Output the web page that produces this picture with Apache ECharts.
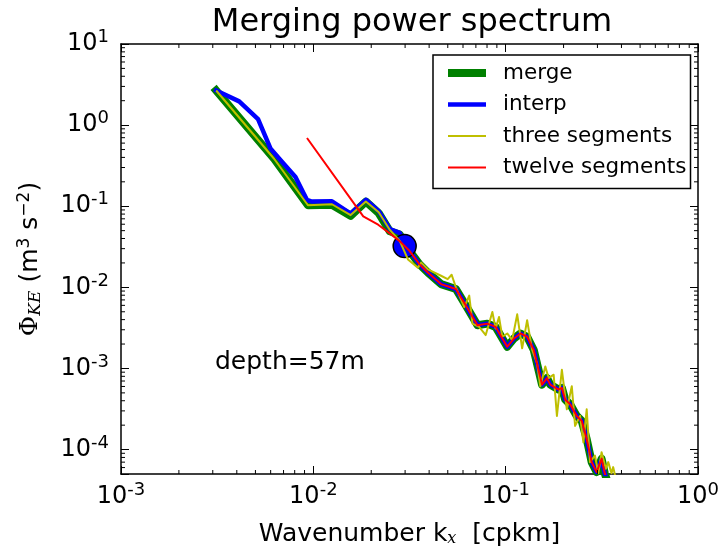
<!DOCTYPE html>
<html><head><meta charset="utf-8">
<script src="https://cdn.jsdelivr.net/npm/echarts@6/dist/echarts.min.js"></script>
<style>html,body{margin:0;padding:0;background:#fff}#c{width:722px;height:552px}</style>
</head><body><div id="c"></div>
<script>
// ---- data ----
const kMerge = [0.003125, 0.00625, 0.009375, 0.0125, 0.015625, 0.01875, 0.021875, 0.025, 0.028125, 0.03168, 0.03568, 0.03938, 0.04612, 0.05511, 0.06209, 0.07136, 0.08035, 0.08869, 0.1019, 0.1104, 0.1194, 0.1293, 0.1400, 0.1545, 0.1640, 0.1705, 0.1884, 0.1960, 0.2038, 0.2163, 0.2342, 0.2486, 0.2638, 0.2800, 0.2971, 0.3153, 0.3279, 0.3427];
const vMerge = [2.672, 0.385, 0.1028, 0.1040, 0.0762, 0.1141, 0.0822, 0.0491, 0.0447, 0.0280, 0.0192, 0.01524, 0.01097, 0.00954, 0.00598, 0.00341, 0.00357, 0.00325, 0.001855, 0.00234, 0.00270, 0.00246, 0.00169, 0.000633, 0.000761, 0.000633, 0.000550, 0.000575, 0.000415, 0.000361, 0.000260, 0.000226, 0.000135, 0.0000700, 0.0000529, 0.0000770, 0.0000505, 0.0000364];

const kInterp = [0.003125, 0.004115, 0.005159, 0.005998, 0.006885, 0.008075, 0.009269, 0.009835, 0.0125, 0.015625, 0.01875, 0.021875, 0.025, 0.028125, 0.03168, 0.03568, 0.03938, 0.04612, 0.05511, 0.06209, 0.07136, 0.08035, 0.08869, 0.1019, 0.1104, 0.1194, 0.1293, 0.1400, 0.1545, 0.1640, 0.1705, 0.1884, 0.1960, 0.2038, 0.2163, 0.2342, 0.2486, 0.2638, 0.2800, 0.2971, 0.3153, 0.3279, 0.3427];
const vInterp = [2.672, 1.962, 1.184, 0.510, 0.351, 0.230, 0.1193, 0.1141, 0.1151, 0.0812, 0.1200, 0.0869, 0.0524, 0.0469, 0.0280, 0.0192, 0.01524, 0.01097, 0.00954, 0.00598, 0.00341, 0.00357, 0.00325, 0.001855, 0.00234, 0.00270, 0.00246, 0.00169, 0.000633, 0.000761, 0.000633, 0.000550, 0.000575, 0.000415, 0.000361, 0.000260, 0.000226, 0.000135, 0.0000700, 0.0000529, 0.0000770, 0.0000505, 0.0000364];

const kThree = [0.003125, 0.00625, 0.009375, 0.0125, 0.015625, 0.01875, 0.021875, 0.025, 0.028125, 0.03105, 0.03496, 0.03637, 0.03938, 0.04612, 0.04994, 0.05237, 0.05511, 0.06090, 0.06464, 0.06723, 0.07282, 0.07875, 0.08527, 0.08869, 0.09234, 0.09603, 0.1019, 0.1081, 0.1148, 0.1218, 0.1293, 0.1372, 0.1456, 0.1514, 0.1607, 0.1673, 0.1776, 0.1847, 0.1960, 0.2080, 0.2207, 0.2296, 0.2436, 0.2536, 0.2638, 0.2744, 0.2911, 0.3032, 0.3153, 0.3319, 0.3415, 0.3551, 0.3623, 0.3724];
const vThree = [2.672, 0.385, 0.1028, 0.1058, 0.0777, 0.1141, 0.0845, 0.0510, 0.0374, 0.0221, 0.0175, 0.0202, 0.0167, 0.0139, 0.0126, 0.0143, 0.0100, 0.00570, 0.00792, 0.00357, 0.00325, 0.00258, 0.00496, 0.00310, 0.00431, 0.00246, 0.00270, 0.00224, 0.00465, 0.00177, 0.00393, 0.00171, 0.00116, 0.000603, 0.00106, 0.000761, 0.000838, 0.000260, 0.000964, 0.000314, 0.000603, 0.000196, 0.000260, 0.000123, 0.000314, 0.0000700, 0.0000845, 0.0000510, 0.0000927, 0.0000582, 0.0000700, 0.0000510, 0.0000608, 0.0000456];

const kTwelve = [0.009269, 0.01818, 0.02173, 0.02545, 0.02812, 0.03168, 0.03568, 0.03938, 0.04612, 0.05511, 0.06209, 0.07136, 0.08035, 0.08869, 0.1019, 0.1104, 0.1194, 0.1293, 0.1400, 0.1545, 0.1640, 0.1705, 0.1884, 0.1960, 0.2038, 0.2163, 0.2342, 0.2486, 0.2638, 0.2800, 0.2971, 0.3153, 0.3279, 0.3377];
const vTwelve = [0.694, 0.0749, 0.0592, 0.0447, 0.0371, 0.0280, 0.0192, 0.01524, 0.01097, 0.00954, 0.00598, 0.00341, 0.00357, 0.00325, 0.001855, 0.00234, 0.00270, 0.00246, 0.00169, 0.000633, 0.000761, 0.000633, 0.000550, 0.000575, 0.000415, 0.000361, 0.000260, 0.000226, 0.000135, 0.0000700, 0.0000529, 0.0000770, 0.0000505, 0.0000420];

const mergePoint = [0.02985, 0.03224];
const seriesNames = ['merge', 'interp', 'three segments', 'twelve segments'];
const xRange = [0.001, 1];
const yRange = [0.00005, 10];
const titleText = 'Merging power spectrum';
const noteText = 'depth=57m';

// ---- build ----
const FONT = 'DejaVu Sans';
const zip = (a, b) => a.map((v, i) => [v, b[i]]);
function decadeLabel(v) {
  const e = Math.log10(v);
  const r = Math.round(e);
  if (Math.abs(e - r) > 0.01) return '';
  return '{n|10}{e|' + r + '}';
}
const tickRich = {
  n: {fontFamily: FONT, fontSize: 24, color: '#000'},
  e: {fontFamily: FONT, fontSize: 18, color: '#000', padding: [0, 0, 13, 0]}
};
// minor tick positions (axis decoration, 2..9 x 10^n)
const xMinor = [], yMinor = [];
for (let e = -3; e <= -1; e++) for (let m = 2; m <= 9; m++) xMinor.push(m * Math.pow(10, e));
for (let e = -5; e <= 0; e++) for (let m = 2; m <= 9; m++) { const v = m * Math.pow(10, e); if (v > yRange[0] && v < yRange[1]) yMinor.push(v); }

function minorTicks(dim, vals) {
  return {
    type: 'custom', silent: true, z: 20, clip: false,
    data: vals.map(v => dim === 'x' ? [v, 1] : [0.01, v]),
    encode: {x: 0, y: 1},
    renderItem(params, api) {
      const cs = params.coordSys;
      const p = api.coord([api.value(0), api.value(1)]);
      const st = {stroke: '#000', lineWidth: 1};
      if (dim === 'x') {
        return {type: 'group', children: [
          {type: 'line', shape: {x1: p[0], y1: cs.y + cs.height, x2: p[0], y2: cs.y + cs.height - 4}, style: st},
          {type: 'line', shape: {x1: p[0], y1: cs.y, x2: p[0], y2: cs.y + 4}, style: st}
        ]};
      }
      return {type: 'group', children: [
        {type: 'line', shape: {x1: cs.x, y1: p[1], x2: cs.x + 4, y2: p[1]}, style: st},
        {type: 'line', shape: {x1: cs.x + cs.width, y1: p[1], x2: cs.x + cs.width - 4, y2: p[1]}, style: st}
      ]};
    }
  };
}

const axisCommon = {
  type: 'log', logBase: 10,
  axisLine: {show: true, lineStyle: {color: '#000', width: 1.5}},
  axisTick: {show: true, inside: true, length: 8, lineStyle: {color: '#000', width: 1}},
  splitLine: {show: false}, minorTick: {show: false}
};

const chart = echarts.init(document.getElementById('c'), null, {renderer: 'canvas'});
chart.setOption({
  animation: false,
  backgroundColor: '#fff',
  title: {text: titleText, left: 412, textAlign: 'center', top: 7, padding: 0,
    textStyle: {fontFamily: FONT, fontSize: 32, fontWeight: 'normal', color: '#000'}},
  grid: {left: 121, right: 21, top: 44, bottom: 74, containLabel: false},
  legend: {
    orient: 'vertical', left: 433, top: 55, padding: [7, 4, 10, 11], itemGap: 9.5,
    itemWidth: 38, itemHeight: 14,
    borderColor: '#000', borderWidth: 1.5, backgroundColor: '#fff',
    itemStyle: {opacity: 0},
    textStyle: {fontFamily: FONT, fontSize: 21.5, color: '#000', padding: [0, 0, 0, 12]},
    data: [
      {name: seriesNames[0], lineStyle: {width: 8, cap: 'butt'}},
      {name: seriesNames[1], lineStyle: {width: 4.5, cap: 'butt'}},
      {name: seriesNames[2], lineStyle: {width: 2, cap: 'butt'}},
      {name: seriesNames[3], lineStyle: {width: 2, cap: 'butt'}}
    ]
  },
  xAxis: [
    Object.assign({}, axisCommon, {
      min: xRange[0], max: xRange[1], position: 'bottom',
      axisLabel: {formatter: decadeLabel, rich: tickRich, margin: 7, color: '#000'},
      name: '{t|Wavenumber k}{s|x}{t|  [cpkm]}', nameLocation: 'middle', nameGap: 47,
      nameTextStyle: {rich: {
        t: {fontFamily: FONT, fontSize: 25, color: '#000'},
        s: {fontFamily: 'DejaVu Serif', fontStyle: 'italic', fontSize: 16, color: '#000', padding: [10, 0, 0, 0]}
      }}
    }),
    Object.assign({}, axisCommon, {min: xRange[0], max: xRange[1], position: 'top', axisLabel: {show: false}})
  ],
  yAxis: [
    Object.assign({}, axisCommon, {
      min: yRange[0], max: yRange[1], position: 'left',
      axisLabel: {formatter: decadeLabel, rich: tickRich, margin: 12, color: '#000'},
      name: '{p|Φ}{s|KE}{t| (m}{u|3}{t| s}{u|−2}{t|)}', nameLocation: 'middle', nameRotate: 90, nameGap: 76,
      nameTextStyle: {rich: {
        p: {fontFamily: 'DejaVu Serif', fontSize: 25, color: '#000'},
        s: {fontFamily: 'DejaVu Serif', fontStyle: 'italic', fontSize: 17, color: '#000', padding: [10, 0, 0, 0]},
        t: {fontFamily: FONT, fontSize: 25, color: '#000'},
        u: {fontFamily: FONT, fontSize: 17, color: '#000', padding: [0, 0, 12, 0]}
      }}
    }),
    Object.assign({}, axisCommon, {min: yRange[0], max: yRange[1], position: 'right', axisLabel: {show: false}})
  ],
  graphic: [{
    type: 'text', left: 215, top: 350, z: 50,
    style: {text: noteText, fontFamily: FONT, fontSize: 25, fill: '#000'}
  }],
  series: [
    {name: seriesNames[0], type: 'line', data: zip(kMerge, vMerge), symbol: 'none', z: 2,
      lineStyle: {color: '#008000', width: 8, join: 'round', cap: 'square'}, itemStyle: {color: '#008000'}},
    {name: seriesNames[1], type: 'line', data: zip(kInterp, vInterp), symbol: 'none', z: 3,
      lineStyle: {color: '#0000ff', width: 4.5, join: 'round', cap: 'square'}, itemStyle: {color: '#0000ff'}},
    {name: 'mergepoint', type: 'scatter', data: [mergePoint], symbolSize: 23, z: 4,
      itemStyle: {color: '#0000ff', borderColor: '#000', borderWidth: 1.5, opacity: 1}},
    {name: seriesNames[2], type: 'line', data: zip(kThree, vThree), symbol: 'none', z: 5,
      lineStyle: {color: '#bfbf00', width: 2, join: 'round'}, itemStyle: {color: '#bfbf00'}},
    {name: seriesNames[3], type: 'line', data: zip(kTwelve, vTwelve), symbol: 'none', z: 6,
      lineStyle: {color: '#ff0000', width: 2, join: 'round'}, itemStyle: {color: '#ff0000'}},
    minorTicks('x', xMinor),
    minorTicks('y', yMinor)
  ]
});
</script></body></html>
